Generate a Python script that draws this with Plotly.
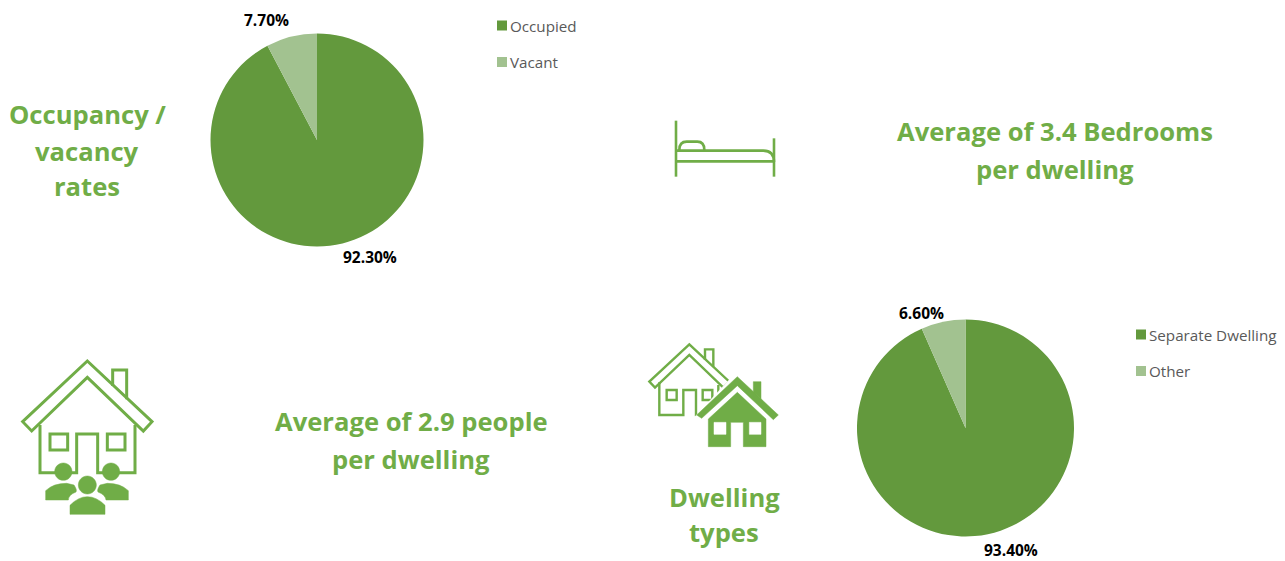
import re
import plotly.graph_objects as go

# Pie data
occupancy_labels = ["Occupied", "Vacant"]
occupancy_values = [92.30, 7.70]
dwelling_labels = ["Separate Dwelling", "Other"]
dwelling_values = [93.40, 6.60]

DARK = "#63993D"
LIGHT = "#A2C290"
GREEN = "#70AD47"
FONT = "Open Sans, Segoe UI, sans-serif"
W, H = 1285, 561


def shifted(ox, oy, path, scale=3.0):
    """Map icon path coordinates from a 3x drawing grid to canvas pixels."""
    out, is_x = [], True
    for tok in re.findall(r"-?\d+\.?\d*|[A-Za-z]", path):
        if tok.isalpha():
            out.append(tok)
            is_x = True
        else:
            val = float(tok) / scale + (ox if is_x else oy)
            out.append(f"{val:.2f}")
            is_x = not is_x
    return " ".join(out)


def line(ox, oy, path, width=2.8, color=GREEN):
    return dict(type="path", xref="x", yref="y", path=shifted(ox, oy, path),
                line=dict(color=color, width=width), layer="above")


def solid(ox, oy, path, color=GREEN):
    return dict(type="path", xref="x", yref="y", path=shifted(ox, oy, path),
                fillcolor=color, line=dict(color=color, width=0.5), layer="above")


def disc(cx, cy, r):
    """Circle outline as four cubic segments."""
    k = 0.5523 * r
    return (f"M{cx - r} {cy} C{cx - r} {cy - k} {cx - k} {cy - r} {cx} {cy - r} "
            f"C{cx + k} {cy - r} {cx + r} {cy - k} {cx + r} {cy} "
            f"C{cx + r} {cy + k} {cx + k} {cy + r} {cx} {cy + r} "
            f"C{cx - k} {cy + r} {cx - r} {cy + k} {cx - r} {cy} Z")


def pie_domain(cx, cy, r):
    return dict(x=[(cx - r) / W, (cx + r) / W], y=[1 - (cy + r) / H, 1 - (cy - r) / H])


def pie(labels, values, cx, cy, r):
    return go.Pie(labels=labels, values=values, domain=pie_domain(cx, cy, r),
                  sort=False, direction="clockwise", rotation=0,
                  marker=dict(colors=[DARK, LIGHT], line=dict(width=0)),
                  textinfo="none", hoverinfo="label+percent", showlegend=False)


fig = go.Figure()
fig.add_trace(go.Scatter(x=[], y=[], showlegend=False))
fig.add_trace(pie(occupancy_labels, occupancy_values, 317, 140, 106.5))
fig.add_trace(pie(dwelling_labels, dwelling_values, 965.5, 428, 108.5))

shapes = []

# Bed icon
bed = (640, 100)
for p in ["M108 62 L108 230", "M402 115 L402 230", "M108 184 L402 184",
          "M108 152 L370 152 Q402 152 402 186",
          "M118 150 Q118 125 140 125 L172 125 Q193 125 193 150"]:
    shapes.append(line(*bed, p, width=2.6))

# House with residents
h1 = (0, 350)
for p in ["M262 33 L456 215 L430 243 L262 82 L95 243 L68 215 Z",
          "M338 108 L338 60 L380 60 L380 148",
          "M120 225 L120 368 L165 368", "M405 225 L405 368 L355 368",
          "M205 368 L230 368 L230 252 L293 252 L293 368 L310 368",
          "M150 252 L203 252 L203 300 L150 300 Z",
          "M322 252 L375 252 L375 300 L322 300 Z"]:
    shapes.append(line(*h1, p, width=3.0))
for cx, cy, r in [(190, 365, 26), (333, 365, 26), (262, 405, 27)]:
    shapes.append(solid(*h1, disc(cx, cy, r)))
for p in ["M137 450 L137 422 Q160 400 200 400 L222 405 Q232 420 228 426 Q206 434 205 450 Z",
          "M385 450 L385 422 Q362 400 322 400 L300 405 Q290 420 294 426 Q316 434 318 450 Z",
          "M210 493 L210 466 Q235 440 262 440 Q290 440 315 466 L315 493 Z"]:
    shapes.append(solid(*h1, p))

# Outlined house behind the solid one
h2 = (640, 335)
for p in ["M148 28 L268 140 L250 158 L148 60 L45 158 L28 140 Z",
          "M195 75 L195 43 L220 43 L220 95",
          "M58 142 L58 240 L130 240 L130 165 L168 165 L168 240 L215 240",
          "M235 150 L235 215",
          "M80 165 L110 165 L110 195 L80 195 Z",
          "M188 165 L217 165 L217 195 L188 195 Z"]:
    shapes.append(line(*h2, p, width=2.4))

# Solid house in front, separated by a white halo
shapes.append(solid(*h2, "M292 108 L430 240 L400 270 L395 345 L195 345 L195 265 L165 245 Z", color="white"))
for p in ["M292 125 L415 240 L400 254 L292 152 L185 250 L170 240 Z",
          "M340 140 L363 140 L363 192 L340 172 Z",
          "M205 252 L292 172 L378 252 L378 335 L310 335 L310 262 L272 262 L272 335 L205 335 Z"]:
    shapes.append(solid(*h2, p))
for p in ["M222 262 L258 262 L258 298 L222 298 Z", "M328 262 L363 262 L363 298 L328 298 Z"]:
    shapes.append(solid(*h2, p, color="white"))

annotations = []


def label(x, y, text, size, color, bold=False, anchor="center"):
    annotations.append(dict(x=x, y=y, xref="x", yref="y", text=f"<b>{text}</b>" if bold else text,
                            showarrow=False, xanchor=anchor, yanchor="middle", borderpad=0,
                            font=dict(family=FONT, size=size, color=color)))


# Headline text
for x, y, t in [(87, 114, "Occupancy /"), (87, 151, "vacancy"), (87, 186, "rates"),
                (1055, 131, "Average of 3.4 Bedrooms"), (1055, 169, "per dwelling"),
                (411, 421, "Average of 2.9 people"), (411, 459, "per dwelling"),
                (724, 497, "Dwelling"), (724, 532, "types")]:
    label(x, y, t, 25.6, GREEN, bold=True)

# Slice value labels
label(370, 257, f"{occupancy_values[0]:.2f}%", 15.5, "#000000", bold=True)
label(266, 20, f"{occupancy_values[1]:.2f}%", 15.5, "#000000", bold=True)
label(1011, 550, f"{dwelling_values[0]:.2f}%", 15.5, "#000000", bold=True)
label(921, 313, f"{dwelling_values[1]:.2f}%", 15.5, "#000000", bold=True)

# Legends
for (sx, tx), y, name, colour in [((497, 509), 25.5, occupancy_labels[0], DARK),
                                  ((497, 509), 62, occupancy_labels[1], LIGHT),
                                  ((1136, 1148), 334.5, dwelling_labels[0], DARK),
                                  ((1136, 1148), 371, dwelling_labels[1], LIGHT)]:
    shapes.append(dict(type="rect", xref="x", yref="y", x0=sx, x1=sx + 10, y0=y - 5, y1=y + 5,
                       fillcolor=colour, line=dict(width=0)))
    label(tx, y, name, 15.2, "#595959", anchor="left")

fig.update_layout(
    width=W, height=H, autosize=False,
    margin=dict(l=0, r=0, t=0, b=0),
    paper_bgcolor="white", plot_bgcolor="rgba(0,0,0,0)",
    xaxis=dict(range=[0, W], visible=False, domain=[0, 1], fixedrange=True),
    yaxis=dict(range=[H, 0], visible=False, domain=[0, 1], fixedrange=True),
    shapes=shapes, annotations=annotations, showlegend=False,
)
fig.write_html("out.html", config=dict(displayModeBar=False))
